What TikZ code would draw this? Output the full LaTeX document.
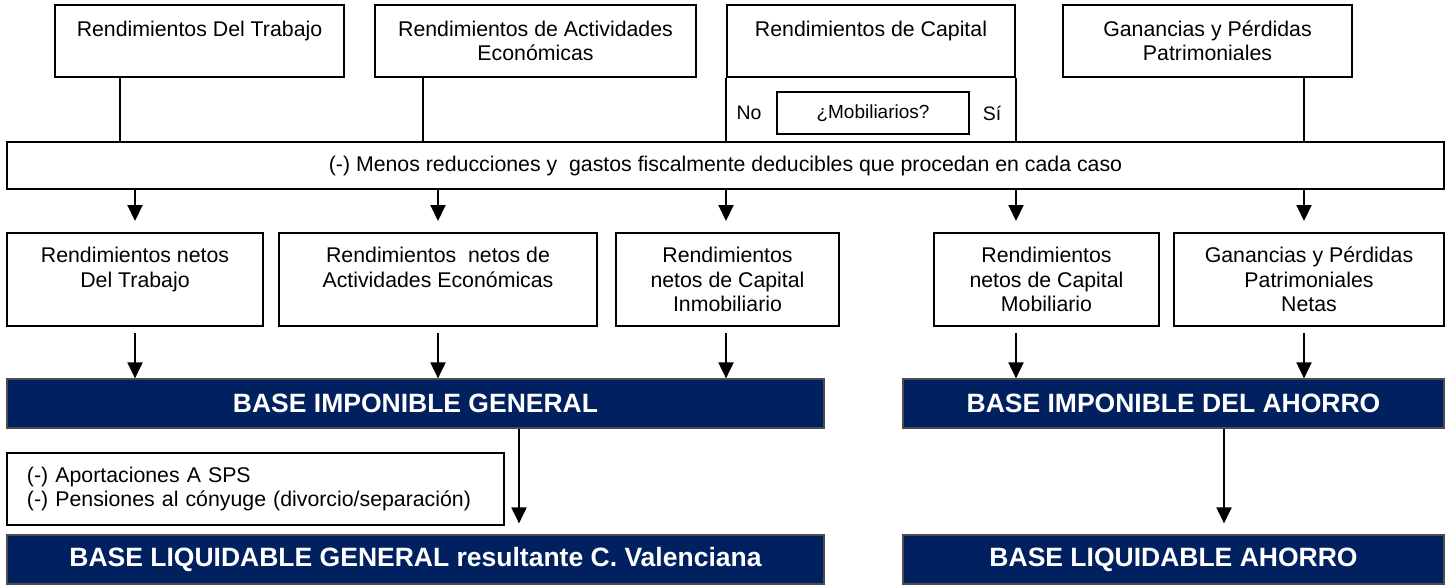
\documentclass[tikz,border=0pt]{standalone}
\usepackage{fontspec}
\setmainfont{Liberation Sans}
\usetikzlibrary{arrows.meta}

\definecolor{marino}{RGB}{0,32,96}
\def\letra{\fontsize{21.3}{24.5}\selectfont}
\tikzstyle{caja}=[draw,line width=2pt,fill=white,align=center,
                  inner sep=0pt,font=\letra]
\tikzstyle{base}=[draw=black!70,line width=1.2pt,fill=marino,text=white,
                  inner sep=0pt,font=\fontsize{26.5}{30}\selectfont\bfseries]
\tikzstyle{linea}=[line width=2pt]
\tikzstyle{flecha}=[line width=2pt,-{Triangle[length=16pt,width=15pt]}]

\begin{document}
\begin{tikzpicture}[x=1pt,y=-1pt]
  \useasboundingbox (0,0) rectangle (1447,584);

  % columnas de las lineas
  \coordinate (x1) at (120,0);
  \coordinate (x2) at (423,0);
  \coordinate (x3) at (1304,0);
  \coordinate (x4) at (519,0);
  \coordinate (x5) at (1224,0);

  % rendimientos
  \node[caja,minimum width=289pt,minimum height=72pt] (trabajo) at (199.5,41)
    {Rendimientos Del Trabajo\\ \mbox{}};
  \node[caja,minimum width=321pt,minimum height=72pt] (actividades) at (535.5,41)
    {Rendimientos de Actividades\\Económicas};
  \node[caja,minimum width=288pt,minimum height=72pt] (capital) at (871,41)
    {Rendimientos de Capital\\ \mbox{}};
  \node[caja,minimum width=289pt,minimum height=72pt] (ganancias) at (1207.5,41)
    {Ganancias y Pérdidas\\Patrimoniales};

  \node[caja,minimum width=192pt,minimum height=42pt,font=\fontsize{19}{22}\selectfont]
    (mobiliarios) at (873,113) {¿Mobiliarios?};
  \node[font=\fontsize{19.5}{22}\selectfont] (no) at (749,113) {No};
  \node[font=\fontsize{19.5}{22}\selectfont] (si) at (992,113) {Sí};

  \node[caja,minimum width=1437pt,minimum height=47pt] (menos) at (725.5,165.5)
    {(-) Menos reducciones y~ gastos fiscalmente deducibles que procedan en cada caso};

  \draw[linea] (trabajo.south -| x1) -- (menos.north -| x1);
  \draw[linea] (actividades.south -| x2) -- (menos.north -| x2);
  \draw[linea] (ganancias.south -| x3) -- (menos.north -| x3);
  \draw[linea] (capital.south west) -- (menos.north -| capital.south west);
  \draw[linea] (capital.south east) -- (menos.north -| capital.south east);

  % rendimientos netos
  \node[caja,minimum width=256pt,minimum height=93pt] (netoTrabajo) at (135,279.5)
    {Rendimientos netos\\Del Trabajo\\ \mbox{}};
  \node[caja,minimum width=318pt,minimum height=93pt] (netoActividades) at (438,279.5)
    {Rendimientos~ netos de\\Actividades Económicas\\ \mbox{}};
  \node[caja,minimum width=223pt,minimum height=93pt] (netoInmobiliario) at (727.5,279.5)
    {Rendimientos\\netos de Capital\\Inmobiliario};
  \node[caja,minimum width=225pt,minimum height=93pt] (netoMobiliario) at (1046.5,279.5)
    {Rendimientos\\netos de Capital\\Mobiliario};
  \node[caja,minimum width=270pt,minimum height=93pt] (netoGanancias) at (1309,279.5)
    {Ganancias y Pérdidas\\Patrimoniales\\Netas};

  \draw[flecha,shorten >=11pt] (menos.south -| netoTrabajo) -- (netoTrabajo.north);
  \draw[flecha,shorten >=11pt] (menos.south -| netoActividades) -- (netoActividades.north);
  \draw[flecha,shorten >=11pt] (menos.south -| capital.south west) -- (netoInmobiliario.north -| capital.south west);
  \draw[flecha,shorten >=11pt] (menos.south -| capital.south east) -- (netoMobiliario.north -| capital.south east);
  \draw[flecha,shorten >=11pt] (menos.south -| x3) -- (netoGanancias.north -| x3);

  % bases
  \node[base,minimum width=817pt,minimum height=49pt] (baseGeneral) at (415.5,403.5)
    {BASE IMPONIBLE GENERAL};
  \node[base,minimum width=541pt,minimum height=49pt] (baseAhorro) at (1173.5,403.5)
    {BASE IMPONIBLE DEL AHORRO};

  \draw[flecha,shorten <=6pt] (netoTrabajo.south) -- (baseGeneral.north -| netoTrabajo);
  \draw[flecha,shorten <=6pt] (netoActividades.south) -- (baseGeneral.north -| netoActividades);
  \draw[flecha,shorten <=6pt] (netoInmobiliario.south -| capital.south west) -- (baseGeneral.north -| capital.south west);
  \draw[flecha,shorten <=6pt] (netoMobiliario.south -| capital.south east) -- (baseAhorro.north -| capital.south east);
  \draw[flecha,shorten <=6pt] (netoGanancias.south -| x3) -- (baseAhorro.north -| x3);

  \node[caja,minimum width=497pt,minimum height=72pt,text width=457pt,inner xsep=20pt,
        align=left] (aportaciones) at (255.5,489)
    {(-) Aportaciones A SPS\\(-) Pensiones al cónyuge (divorcio/separación)};

  \node[base,minimum width=817pt,minimum height=49pt] (liqGeneral) at (415.5,559.5)
    {BASE LIQUIDABLE GENERAL resultante C. Valenciana};
  \node[base,minimum width=541pt,minimum height=49pt] (liqAhorro) at (1173.5,559.5)
    {BASE LIQUIDABLE AHORRO};

  \draw[flecha,shorten >=11pt] (baseGeneral.south -| x4) -- (liqGeneral.north -| x4);
  \draw[flecha,shorten >=11pt] (baseAhorro.south -| x5) -- (liqAhorro.north -| x5);
\end{tikzpicture}
\end{document}
